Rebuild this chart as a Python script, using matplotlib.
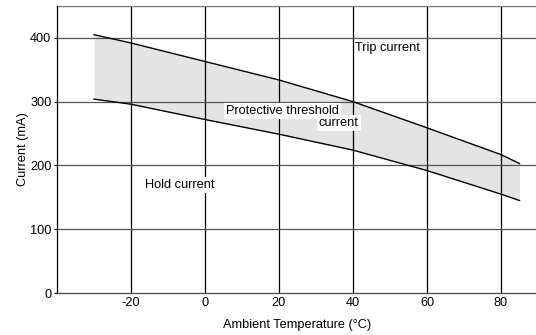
import numpy as np
import matplotlib.pyplot as plt

plt.rcParams['font.family'] = ['Liberation Sans', 'DejaVu Sans']
plt.rcParams['axes.unicode_minus'] = False

# values
temps = [-30, -20, 0, 20, 40, 60, 80, 85]
trip_ma = [405, 392, 363, 334, 300, 259, 217, 203]
hold_ma = [304, 296, 272, 249, 224, 192, 155, 145]
x_ticks = [-20, 0, 20, 40, 60, 80]
y_ticks = [0, 100, 200, 300, 400]

fs = 9.2
fig = plt.figure(figsize=(5.36, 3.35), dpi=100)
ax = fig.add_axes([57 / 536, 42 / 335, 481 / 536, 287 / 335])

ax.fill_between(temps, hold_ma, trip_ma, color='#e4e4e4', lw=0, zorder=1)
for xv in x_ticks:
    ax.axvline(xv, color='black', lw=0.9, zorder=2)
for yv in y_ticks[1:]:
    ax.axhline(yv, color='#555555', lw=0.9, zorder=2)
ax.axhline(450, color='#777777', lw=1.0, zorder=2)

ax.plot(temps, trip_ma, color='black', lw=1.0, zorder=3)
ax.plot(temps, hold_ma, color='black', lw=1.0, zorder=3)

ax.set_xlim(-40, 90)
ax.set_ylim(0, 450)
ax.set_xticks(x_ticks)
ax.set_yticks(y_ticks)
ax.tick_params(axis='both', labelsize=fs, length=0, pad=3)
ax.tick_params(axis='y', length=2, direction='out', pad=2)

for side in ['top', 'right']:
    ax.spines[side].set_visible(False)
ax.spines['left'].set_color('black')
ax.spines['left'].set_linewidth(0.9)
ax.spines['bottom'].set_color('#555555')
ax.spines['bottom'].set_linewidth(1.0)

ax.set_xlabel('Ambient Temperature (°C)', fontsize=fs, labelpad=7)
ax.set_ylabel('Current (mA)', fontsize=fs, labelpad=1)

box = dict(facecolor='white', edgecolor='none', pad=1.5)
ax.text(40.5, 384, 'Trip current', fontsize=fs, ha='left', va='center', zorder=4)
ax.text(5.8, 286, 'Protective threshold', fontsize=fs, ha='left', va='center',
        bbox=box, zorder=4)
ax.text(30.8, 266, 'current', fontsize=fs, ha='left', va='center', bbox=box, zorder=4)
ax.text(-16.3, 170, 'Hold current', fontsize=fs, ha='left', va='center',
        bbox=box, zorder=4)

fig.savefig('out.png', dpi=100)
